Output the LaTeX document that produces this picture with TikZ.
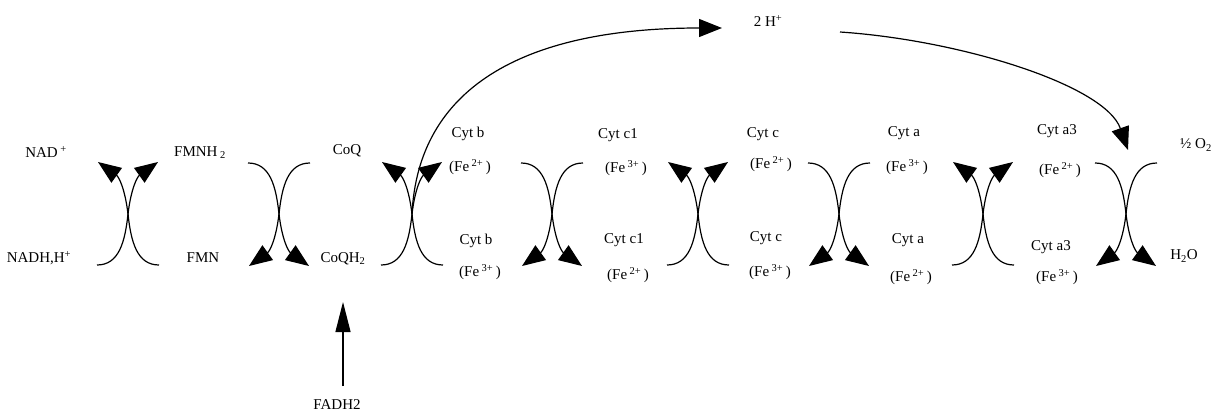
\documentclass[tikz,border=0pt]{standalone}
\usepackage{fontspec}
\setmainfont{Liberation Serif}
\usetikzlibrary{arrows.meta}
\tikzset{
  redoxline/.style={line width=1.2pt, -{Triangle[length=23pt,width=18pt]}},
  lbl/.style={inner sep=1pt, font=\fontsize{15}{18}\selectfont},
  redox/.pic={
    \draw[redoxline] (31,51) .. controls (9,51) and (3,28) .. (0,0)
                     .. controls (-3,-25) and (-9,-37) .. (-30,-52);
    \draw[redoxline] (-31,51) .. controls (-9,51) and (-3,28) .. (0,0)
                     .. controls (3,-25) and (9,-37) .. (30,-52);
  }
}
\newcommand{\feox}[1]{(Fe\,\textsuperscript{#1}\,)}
\begin{document}
\begin{tikzpicture}[x=1pt,y=-1pt]
\useasboundingbox[fill=white] (0,0) rectangle (1218,417);

% redox crossings
\pic at (128,214) {redox};
\pic[yscale=-1] at (279,214) {redox};
\pic at (412,214) {redox};
\pic[yscale=-1] at (552,214) {redox};
\pic at (698,214) {redox};
\pic[yscale=-1] at (839,214) {redox};
\pic at (983,214) {redox};
\pic[yscale=-1] at (1126,214) {redox};

% labels
\node[lbl] (nad) at (46,152) {NAD\,\textsuperscript{+}};
\node[lbl] (nadh) at (39,258) {NADH,H\textsuperscript{+}};
\node[lbl] (fmnh) at (200,153) {FMNH\,\textsubscript{2}};
\node[lbl] (fmn) at (203,258) {FMN};
\node[lbl] (coq) at (347,151) {CoQ};
\node[lbl] (coqh) at (343,259) {CoQH\textsubscript{2}};

\node[lbl] (cbt) at (468,134) {Cyt b};
\node[lbl] (cbtf) at (470,167) {\feox{2+}};
\node[lbl] (cbb) at (476,241) {Cyt b};
\node[lbl] (cbbf) at (480,272) {\feox{3+}};

\node[lbl] (cc1t) at (618,135) {Cyt c1};
\node[lbl] (cc1tf) at (626,168) {\feox{3+}};
\node[lbl] (cc1b) at (624,240) {Cyt c1};
\node[lbl] (cc1bf) at (628,275) {\feox{2+}};

\node[lbl] (cct) at (763,134) {Cyt c};
\node[lbl] (cctf) at (771,164) {\feox{2+}};
\node[lbl] (ccb) at (766,238) {Cyt c};
\node[lbl] (ccbf) at (770,272) {\feox{3+}};

\node[lbl] (cat) at (904,133) {Cyt a};
\node[lbl] (catf) at (907,167) {\feox{3+}};
\node[lbl] (cab) at (908,240) {Cyt a};
\node[lbl] (cabf) at (911,277) {\feox{2+}};

\node[lbl] (ca3t) at (1057,131) {Cyt a3};
\node[lbl] (ca3tf) at (1060,170) {\feox{2+}};
\node[lbl] (ca3b) at (1051,247) {Cyt a3};
\node[lbl] (ca3bf) at (1057,277) {\feox{3+}};

\node[lbl] (ox) at (1196,145) {½ O\textsubscript{2}};
\node[lbl] (water) at (1184,256) {H\textsubscript{2}O};
\node[lbl] (hplus) at (768,21) {2 H\textsuperscript{+}};
\node[lbl] (fadh) at (337,405) {FADH2};

% proton arcs
\coordinate (cqc) at (412,214);
\coordinate (htip) at (722,28);
\coordinate (hstart) at (840,32);
\coordinate (otip) at (1128,150);
\draw[redoxline] (cqc) .. controls (418,90) and (520,28) .. (htip);
\draw[redoxline] (hstart) .. controls (960,40) and (1105,85) .. (otip);

% FADH2 arrow
\coordinate (fbase) at (343,386);
\coordinate (ftip) at (343,302);
\draw[line width=1.2pt, -{Triangle[length=30pt,width=15pt]}] (fbase) -- (ftip);
\end{tikzpicture}
\end{document}
